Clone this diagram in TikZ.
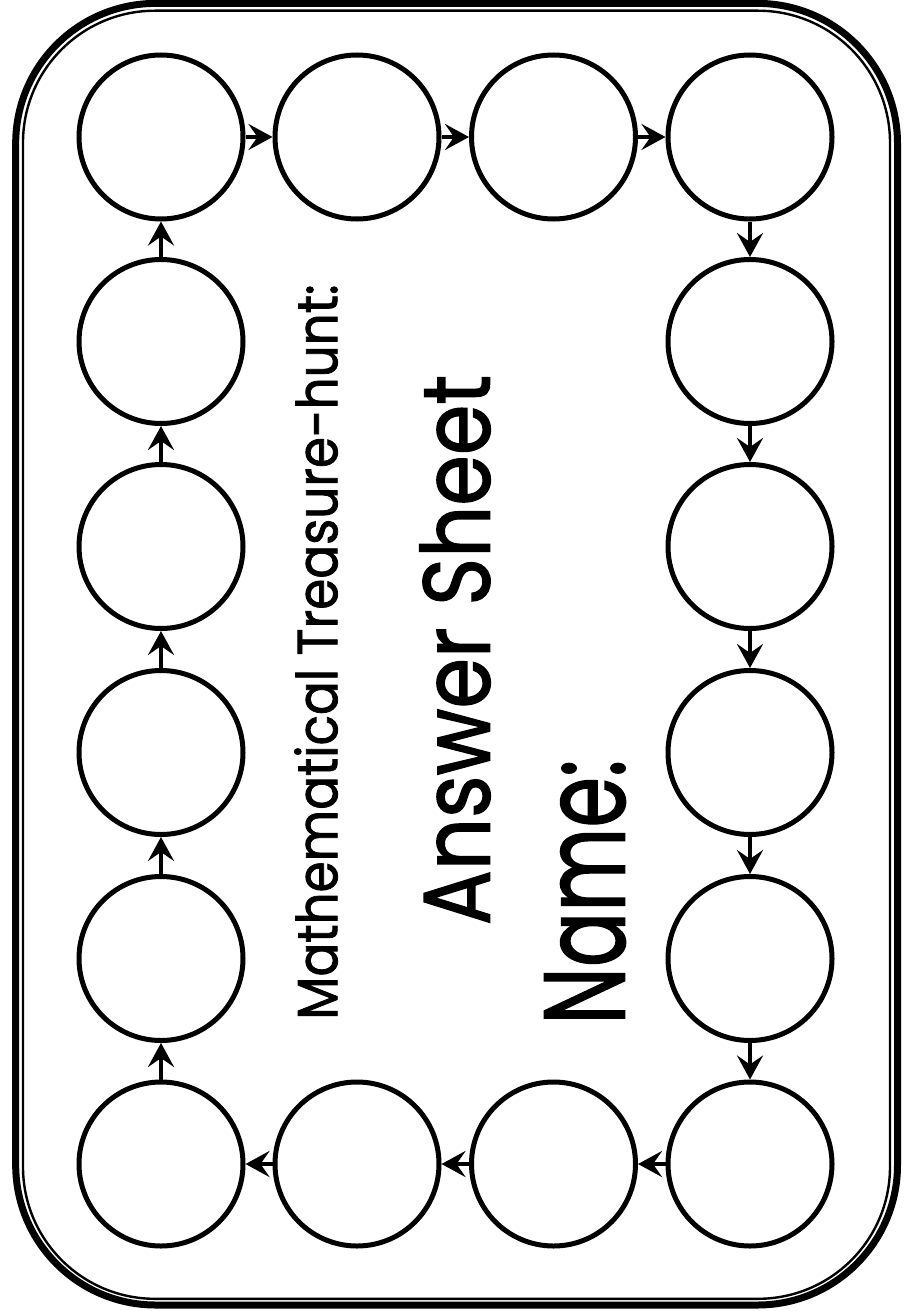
\documentclass[tikz,border=0pt]{standalone}
\usepackage{fontspec}
\setmainfont{Poppins}[FakeBold=1.5,AutoFakeBold=1.5]
\usetikzlibrary{arrows.meta}
\begin{document}
\begin{tikzpicture}[x=1pt,y=-1pt,
  spot/.style={draw, circle, line width=5pt, minimum size=164pt, inner sep=0pt},
  link/.style={line width=4.5pt, -{Stealth[length=24pt,width=26pt,inset=9pt]}},
  label/.style={rotate=90, inner sep=0pt}]
\useasboundingbox (0,0) rectangle (905,1311);
\draw[line width=7pt, rounded corners=140pt] (15.7,3.4) rectangle (897.5,1305);
\draw[line width=2.4pt, rounded corners=132pt] (23,10.7) rectangle (890,1298.8);
% circles
\foreach \n/\x/\y in {t1/161/137, t2/357/137, t3/553.5/137, t4/750/137,
  r2/750/341.5, r3/750/546.5, r4/750/752.5, r5/750/958.5, r6/750/1164,
  b3/553.5/1164, b2/357/1164, b1/161/1164,
  l5/161/958.5, l4/161/752.5, l3/161/546.5, l2/161/341.5}
  \node[spot] (\n) at (\x,\y) {};
\foreach \a/\b in {t1/t2, t2/t3, t3/t4, t4/r2, r2/r3, r3/r4, r4/r5, r5/r6,
  r6/b3, b3/b2, b2/b1, b1/l5, l5/l4, l4/l3, l3/l2, l2/t1}
  \draw[link] (\a) -- (\b);
% texts
\node[label] (title) at (316,652) {\resizebox{735pt}{43pt}{\bfseries Mathematical Treasure-hunt:}};
\node[label] (answer) at (455,650) {\resizebox{550pt}{70pt}{\bfseries Answer Sheet}};
\node[label] (name) at (585,892) {\resizebox{265pt}{80pt}{\bfseries Name:}};
\end{tikzpicture}
\end{document}
